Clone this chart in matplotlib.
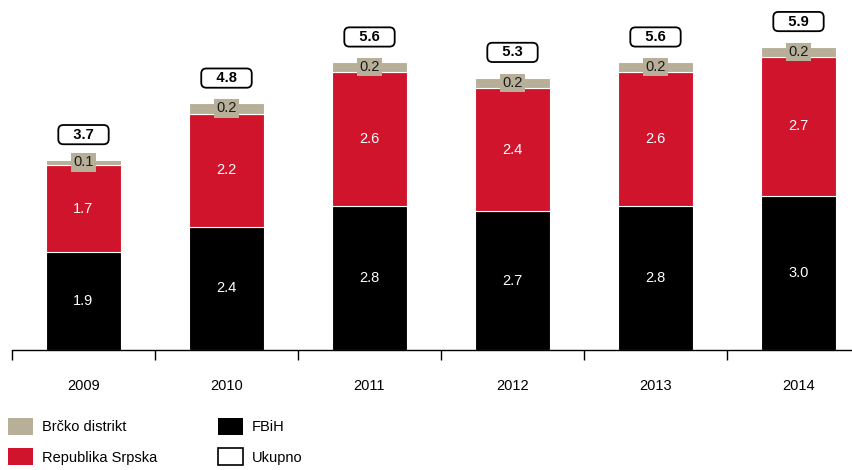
import matplotlib.pyplot as plt
from matplotlib.patches import Patch

plt.rcParams['font.family'] = ['Liberation Sans', 'DejaVu Sans']

years = ['2009', '2010', '2011', '2012', '2013', '2014']
fbih = [1.9, 2.4, 2.8, 2.7, 2.8, 3.0]
rs = [1.7, 2.2, 2.6, 2.4, 2.6, 2.7]
brcko = [0.1, 0.2, 0.2, 0.2, 0.2, 0.2]
total = [3.7, 4.8, 5.6, 5.3, 5.6, 5.9]

c_red = '#D0142C'
c_gray = '#B7AF98'


def plot_data():
    fig = plt.figure(figsize=(8.53, 4.70), dpi=100)
    ax = fig.add_axes([12 / 853, 120 / 470, 841 / 853, 350 / 470])
    x = list(range(len(years)))
    w = 0.52

    ax.bar(x, fbih, w, color='black', edgecolor='white', linewidth=0.8)
    rs_bottom = fbih
    ax.bar(x, rs, w, bottom=rs_bottom, color=c_red, edgecolor='white', linewidth=0.8)
    br_bottom = [a + b for a, b in zip(fbih, rs)]
    ax.bar(x, brcko, w, bottom=br_bottom, color=c_gray, edgecolor='white', linewidth=0.8)

    for i in x:
        ax.text(i, fbih[i] / 2, f'{fbih[i]:.1f}', ha='center', va='center',
                color='white', fontsize=10.5)
        ax.text(i, fbih[i] + rs[i] / 2, f'{rs[i]:.1f}', ha='center', va='center',
                color='white', fontsize=10.5)
        ax.text(i, br_bottom[i] + brcko[i] / 2, f'{brcko[i]:.1f}', ha='center',
                va='center', color='#1a1a1a', fontsize=10.5,
                bbox=dict(boxstyle='square,pad=0.15', fc=c_gray, ec='none'))
        ax.text(i, total[i] + 0.49, f'   {total[i]:.1f}   ', ha='center', va='center',
                color='black', fontsize=10.5, fontweight='bold',
                bbox=dict(boxstyle='round,pad=0.18,rounding_size=0.35', fc='white',
                          ec='black', lw=1.3))
    ax.set_xlim(-0.5, 841 / 143 - 0.5)
    ax.set_ylim(0, 350 / 51.4)
    ax.set_xticks([i - 0.5 for i in x])
    ax.set_xticklabels([])
    ax.set_xticks(x, minor=True)
    ax.set_xticklabels(years, minor=True, fontsize=10.5)
    ax.tick_params(axis='x', which='minor', length=0, pad=21)
    ax.tick_params(axis='x', which='major', length=7, width=1, direction='out')
    ax.set_yticks([])
    for s in ['top', 'right', 'left']:
        ax.spines[s].set_visible(False)
    ax.spines['bottom'].set_linewidth(1)

    handles = [Patch(fc=c_gray, ec='none'), Patch(fc=c_red, ec='none'),
               Patch(fc='black', ec='none'), Patch(fc='white', ec='black', lw=1.2)]
    labels = ['Brčko distrikt', 'Republika Srpska', 'FBiH', 'Ukupno']
    fig.legend(handles, labels, ncol=2, loc='lower left', bbox_to_anchor=(-0.006, -0.018),
               frameon=False, fontsize=10.5, handlelength=1.7, handleheight=1.4,
               columnspacing=4.2, labelspacing=0.95, handletextpad=0.6)

    fig.savefig('out.png', dpi=100)


if __name__ == '__main__':
    plot_data()
